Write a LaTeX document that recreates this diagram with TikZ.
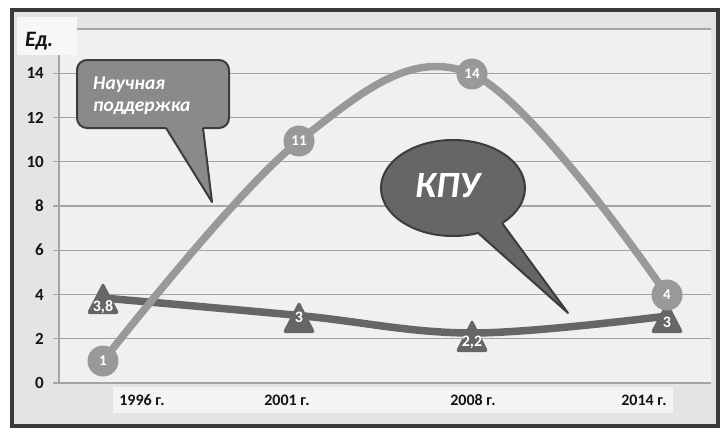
\documentclass[tikz,border=0pt]{standalone}
\usepackage{fontspec}
\setmainfont{Carlito}
\definecolor{outerbg}{HTML}{E4E4E4}
\definecolor{plotbg}{HTML}{F0F0F0}
\definecolor{edbox}{HTML}{F7F7F7}
\definecolor{band}{HTML}{F4F4F4}
\definecolor{gridc}{HTML}{A5A5A5}
\definecolor{lightser}{HTML}{999999}
\definecolor{darkser}{HTML}{666666}
\definecolor{calA}{HTML}{8A8A8A}
\definecolor{calB}{HTML}{666666}
\definecolor{calborder}{HTML}{3C3C3C}
\definecolor{framec}{HTML}{3A3A3A}
\definecolor{txt}{HTML}{141414}
\tikzset{
  gridline/.style={draw=gridc, line width=1.3pt},
  ylab/.style={anchor=east, text=txt, inner sep=0pt, font=\bfseries\fontsize{17}{17}\selectfont},
  xlab/.style={text=txt, inner sep=0pt, font=\bfseries\fontsize{16}{16}\selectfont},
  cval/.style={circle, fill=lightser, minimum size=31pt, inner sep=0pt, text=white, font=\bfseries\fontsize{15}{15}\selectfont},
  tval/.style={text=white, inner sep=0pt, font=\bfseries\fontsize{16}{16}\selectfont},
  callout/.style={draw=calborder, line width=2pt, line join=round},
  series/.style={line width=7.5pt, line cap=round}
}
\newcommand\kputri[3]{\fill[darkser, rounded corners=3pt] (#1,#2) -- (#1+16.5,#3) -- (#1-16.5,#3) -- cycle;}
\begin{document}
\begin{tikzpicture}[x=1pt,y=-1pt]
\useasboundingbox (0,0) rectangle (727,428);
\fill[white] (0,0) rectangle (727,428);
\draw[draw=framec, line width=4pt, fill=outerbg] (12,10) rectangle (718,426);
\fill[plotbg] (59,29) rectangle (711,383);
\foreach \v in {0,2,...,16} \draw[gridline] (53,{383-22.125*\v}) -- (711,{383-22.125*\v});
\draw[gridline] (59,29) -- (59,383);
\foreach \v in {0,2,...,14} \node[ylab] (y\v) at (44,{383-22.125*\v}) {\v};
\fill[edbox] (17,17) rectangle (77,55);
\node[anchor=base west, inner sep=0pt, text=txt, font=\bfseries\itshape\fontsize{22}{22}\selectfont] (ed) at (25,46) {Ед.};
\fill[band] (113,387) rectangle (673,413);
\node[xlab] (x1) at (142,400) {1996 г.};
\node[xlab] (x2) at (287,400) {2001 г.};
\node[xlab] (x3) at (473,400) {2008 г.};
\node[xlab] (x4) at (644,400) {2014 г.};
% data points
\coordinate (a1) at (103,361);
\coordinate (a2) at (299,141);
\coordinate (a3) at (472,74);
\coordinate (a4) at (667,295);
\coordinate (b1) at (103,298);
\coordinate (b2) at (299,315.5);
\coordinate (b3) at (472,333);
\coordinate (b4) at (667,316);
\draw[series, darkser] plot[smooth, tension=0.6] coordinates {(b1) (b2) (b3) (b4)};
\draw[series, lightser] plot[smooth, tension=0.6] coordinates {(a1) (a2) (a3) (a4)};
\kputri{103}{282}{314}
\kputri{299}{301}{333}
\kputri{472}{319}{352}
\kputri{667}{301}{333}
\node[tval] (t1) at (103,307) {3,8};
\node[tval] (t2) at (299,317) {3};
\node[tval] (t3) at (472,342) {2,2};
\node[tval] (t4) at (667,322) {3};
\node[cval] (c1) at (a1) {1};
\node[cval] (c2) at (a2) {11};
\node[cval] (c3) at (a3) {14};
\node[cval] (c4) at (a4) {4};
% callout 1
\draw[callout, fill=calA, rounded corners=10pt] (77,60) rectangle (229,128);
\fill[calA] (166,128) -- (212,202) -- (203,128) -- (203,124) -- (166,124) -- cycle;
\draw[callout] (166,128) -- (212,202) -- (203,128);
\node[anchor=base west, inner sep=0pt, text=white, font=\bfseries\itshape\fontsize{19.5}{19.5}\selectfont] (s1) at (93,89) {Научная};
\node[anchor=base west, inner sep=0pt, text=white, font=\bfseries\itshape\fontsize{19.5}{19.5}\selectfont] (s2) at (93,111) {поддержка};
% callout 2
\draw[callout, fill=calB] (453,188) ellipse [x radius=72pt, y radius=48pt];
\fill[calB] (477,232) -- (568,313) -- (502,223) -- (500,216) -- (476,224) -- cycle;
\draw[callout] (477,232) -- (568,313) -- (502,223);
\node[anchor=base west, inner sep=0pt, text=white, font=\bfseries\itshape\fontsize{37}{37}\selectfont] (k) at (415,197) {КПУ};
\end{tikzpicture}
\end{document}
